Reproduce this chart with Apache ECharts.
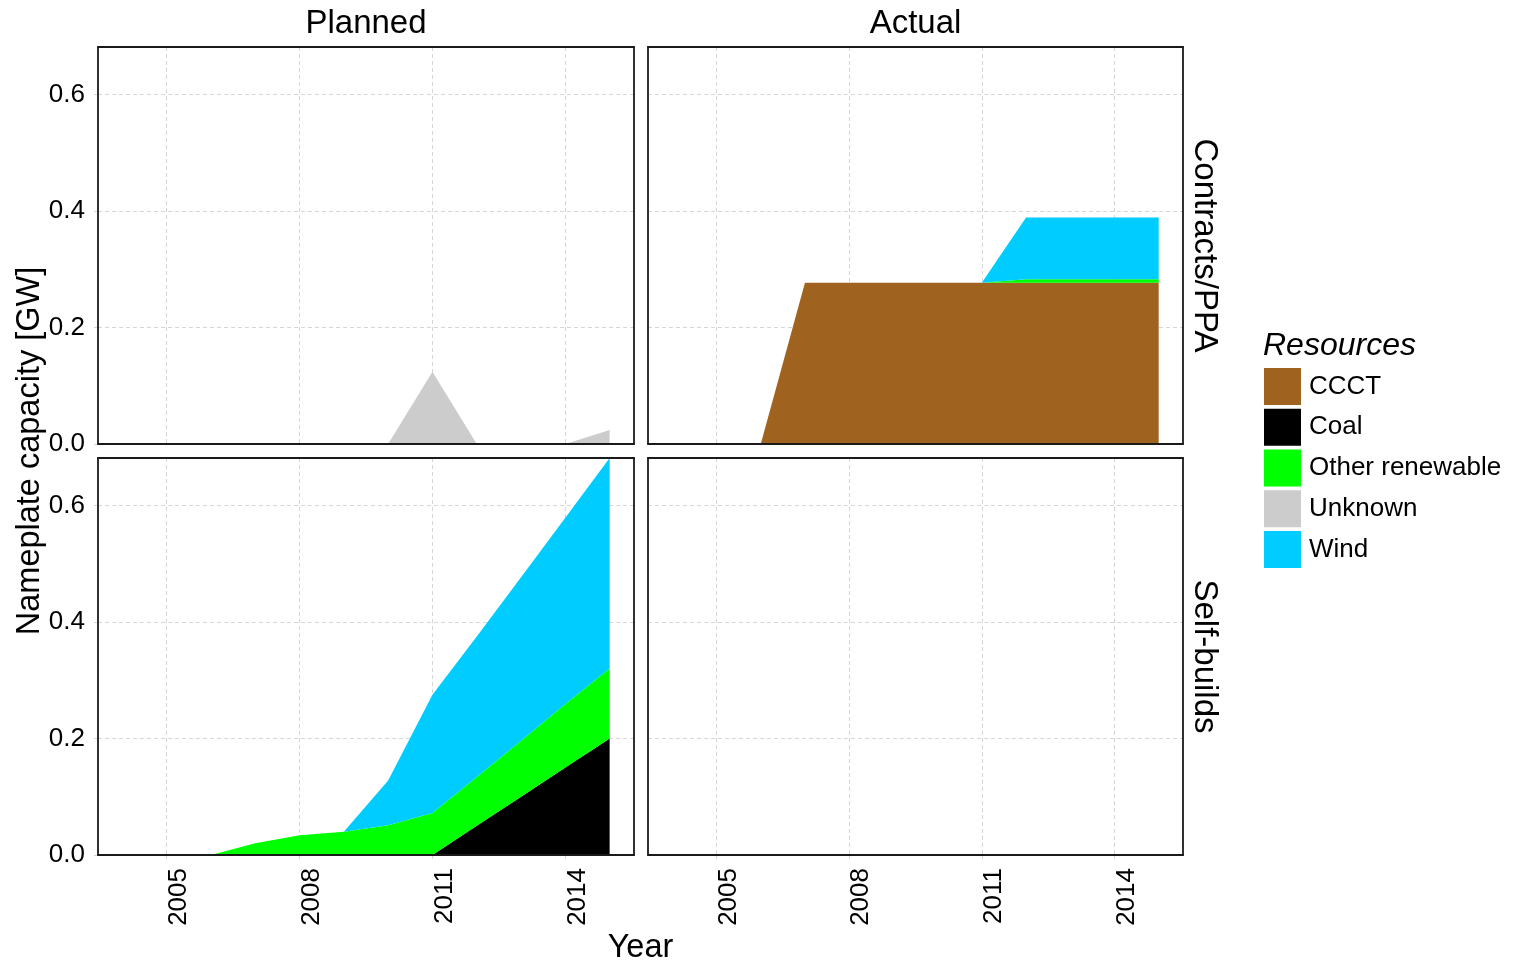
<!DOCTYPE html>
<html>
<head>
<meta charset="utf-8">
<script src="https://cdn.jsdelivr.net/npm/echarts@6/dist/echarts.min.js"></script>
<style>
html,body{margin:0;padding:0;background:#fff;}
#chart{width:1517px;height:963px;}
</style>
</head>
<body>
<div id="chart"></div>
<script>
// ---------------- data ----------------
const years = [2004, 2005, 2006, 2007, 2008, 2009, 2010, 2011, 2012, 2013, 2014, 2015];
const xTicks = [2005, 2008, 2011, 2014];
const yTicks = [0, 0.2, 0.4, 0.6];
const resources = ['CCCT', 'Coal', 'Other renewable', 'Unknown', 'Wind'];
const resourceColors = ['#a0621f', '#000000', '#00ff00', '#cccccc', '#00ccff'];
const columnLabels = ['Planned', 'Actual'];
const rowLabels = ['Contracts/PPA', 'Self-builds'];

// Planned – Contracts/PPA
const plannedContractsUnknown = [0, 0, 0, 0, 0, 0, 0, 0.124, 0, 0, 0, 0.024];
// Actual – Contracts/PPA
const actualContractsCCCT  = [0, 0, 0, 0.277, 0.277, 0.277, 0.277, 0.277, 0.277, 0.277, 0.277, 0.277];
const actualContractsOther = [0, 0, 0, 0, 0, 0, 0, 0, 0.006, 0.006, 0.006, 0.006];
const actualContractsWind  = [0, 0, 0, 0, 0, 0, 0, 0, 0.106, 0.106, 0.106, 0.106];
// Planned – Self-builds
const plannedSelfCoal  = [0, 0, 0, 0, 0, 0, 0, 0, 0.05, 0.10, 0.15, 0.20];
const plannedSelfOther = [0, 0, 0, 0.020, 0.034, 0.040, 0.051, 0.072, 0.084, 0.096, 0.109, 0.120];
const plannedSelfWind  = [0, 0, 0, 0, 0, 0, 0.077, 0.203, 0.241, 0.281, 0.320, 0.3615];
// Actual – Self-builds: nothing

const panelSeries = [
  [{ name: 'Unknown', values: plannedContractsUnknown }],
  [{ name: 'CCCT', values: actualContractsCCCT },
   { name: 'Other renewable', values: actualContractsOther },
   { name: 'Wind', values: actualContractsWind }],
  [{ name: 'Coal', values: plannedSelfCoal },
   { name: 'Other renewable', values: plannedSelfOther },
   { name: 'Wind', values: plannedSelfWind }],
  []
];

// ---------------- layout / style ----------------
const FONT = '"Liberation Sans", Arial, Helvetica, sans-serif';
const xMin = 2003.45, xMax = 2015.55;
const yMin = 0, yMax = 0.6815;
const gridLefts = [98, 648];
const gridWidths = [536, 535];
const gridTops = [47, 458];
const gridHeight = 397;
const gridLineStyle = { color: '#d6d6d6', width: 1, type: [4, 3] };
const borderLine = { color: '#1a1a1a', width: 1.8 };

const grids = [], xAxes = [], yAxes = [], series = [];
const colorOf = name => resourceColors[resources.indexOf(name)];

for (let p = 0; p < 4; p++) {
  const row = Math.floor(p / 2), col = p % 2;
  grids.push({ left: gridLefts[col], top: gridTops[row], width: gridWidths[col], height: gridHeight, containLabel: false });

  // main x axis (grid lines, ticks, labels)
  xAxes.push({
    gridIndex: p, type: 'value', position: 'bottom', min: xMin, max: xMax, z: 0,
    axisLine: { show: false, onZero: false },
    axisTick: { show: row === 1, customValues: xTicks, length: 6, lineStyle: gridLineStyle },
    axisLabel: {
      show: row === 1, customValues: xTicks, rotate: 90, margin: 13,
      fontSize: 26, color: '#000', fontFamily: FONT,
      verticalAlign: 'top', lineHeight: 24,
      formatter: v => String(v)
    },
    splitLine: { show: true, lineStyle: gridLineStyle }
  });
  // border bottom & top
  ['bottom', 'top'].forEach(pos => xAxes.push({
    gridIndex: p, type: 'value', position: pos, min: xMin, max: xMax, z: 5,
    axisLine: { show: true, onZero: false, lineStyle: borderLine },
    axisTick: { show: false }, axisLabel: { show: false }, splitLine: { show: false }
  }));

  // main y axis
  yAxes.push({
    gridIndex: p, type: 'value', position: 'left', min: yMin, max: yMax, z: 0,
    axisLine: { show: false, onZero: false },
    axisTick: { show: col === 0, customValues: yTicks, length: 6, lineStyle: gridLineStyle },
    axisLabel: {
      show: col === 0, customValues: yTicks, margin: 13,
      fontSize: 26, color: '#000', fontFamily: FONT,
      formatter: v => v.toFixed(1)
    },
    splitLine: { show: true, lineStyle: gridLineStyle }
  });
  ['left', 'right'].forEach(pos => yAxes.push({
    gridIndex: p, type: 'value', position: pos, min: yMin, max: yMax, z: 5,
    axisLine: { show: true, onZero: false, lineStyle: borderLine },
    axisTick: { show: false }, axisLabel: { show: false }, splitLine: { show: false }
  }));

  panelSeries[p].forEach(s => {
    const c = colorOf(s.name);
    series.push({
      type: 'line', name: s.name,
      xAxisIndex: 3 * p, yAxisIndex: 3 * p,
      stack: 'panel' + p,
      symbol: 'none', showSymbol: false, silent: true,
      lineStyle: { width: 0 },
      itemStyle: { color: c },
      areaStyle: { color: c, opacity: 1 },
      emphasis: { disabled: true },
      z: 2,
      // value first so that stacking is applied to the value (y) dimension
      dimensions: ['value', 'year'],
      encode: { x: 'year', y: 'value' },
      data: years.map((y, i) => [s.values[i], y])
    });
  });
}

const textEl = (text, x, y, size, rotation, extra) => ({
  type: 'text', x: x, y: y, rotation: rotation || 0, silent: true,
  style: Object.assign({
    text: text, fontSize: size, fontFamily: FONT, fill: '#000',
    align: 'center', verticalAlign: 'middle',
    textAlign: 'center', textVerticalAlign: 'middle'
  }, extra || {})
});

const graphics = [
  textEl(columnLabels[0], 366, 24, 33),
  textEl(columnLabels[1], 915.5, 24, 33),
  textEl(rowLabels[0], 1204, 245.5, 33, -Math.PI / 2),
  textEl(rowLabels[1], 1204, 656.5, 33, -Math.PI / 2),
  textEl('Nameplate capacity [GW]', 30, 451, 32.5, Math.PI / 2),
  textEl('Year', 640.5, 948, 32.5),
  textEl('Resources', 1263, 346, 32, 0, { align: 'left', textAlign: 'left', fontStyle: 'italic' })
];

const chart = echarts.init(document.getElementById('chart'), null, { renderer: 'canvas' });
chart.setOption({
  animation: false,
  backgroundColor: '#ffffff',
  grid: grids,
  xAxis: xAxes,
  yAxis: yAxes,
  legend: {
    orient: 'vertical', left: 1264, top: 368, padding: 0,
    itemWidth: 37, itemHeight: 37, itemGap: 3.75, icon: 'rect',
    selectedMode: false,
    data: resources,
    itemStyle: { borderWidth: 0 },
    textStyle: { fontSize: 26, color: '#000', fontFamily: FONT, padding: [0, 0, 0, 3] }
  },
  graphic: graphics,
  series: series
});
</script>
</body>
</html>
